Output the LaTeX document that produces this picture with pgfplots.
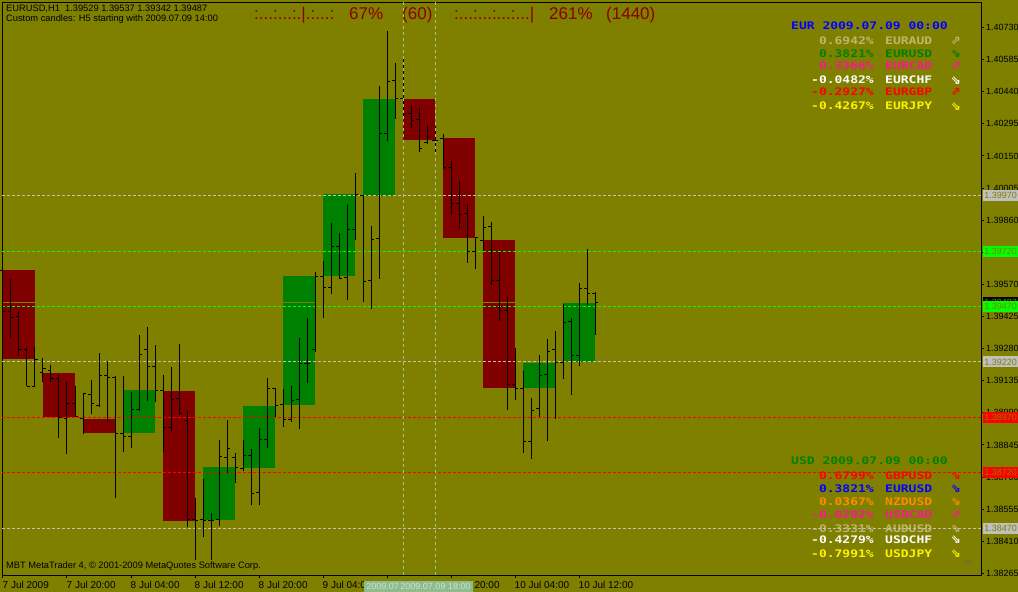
\documentclass[border=0pt]{standalone}
\usepackage{fontspec}
\setmainfont{Liberation Sans}
\newfontfamily\mono{DejaVu Sans Mono}
\newfontfamily\afont{DejaVu Sans}
\usepackage{graphicx}
\usepackage{pgfplots}
\usepackage{pgfplotstable}
\pgfplotsset{compat=1.18}

\definecolor{mtbg}{RGB}{128,128,0}
\definecolor{mtred}{RGB}{128,0,0}
\definecolor{mtgreen}{RGB}{0,128,0}
\definecolor{lvgray}{RGB}{192,192,192}
\definecolor{lvlime}{RGB}{0,255,0}
\definecolor{lvred}{RGB}{255,0,0}
\definecolor{vline}{RGB}{165,195,145}
\definecolor{seagr}{RGB}{143,188,143}
\definecolor{seatxt}{RGB}{205,228,200}
\definecolor{khaki}{RGB}{189,183,107}
\definecolor{dpink}{RGB}{255,20,147}
\definecolor{orng}{RGB}{255,140,0}
\definecolor{hdred}{RGB}{139,0,0}
\definecolor{skull}{RGB}{105,105,85}

% H5 candle bodies: first H1 bar, open, close
\pgfplotstableread{
t o c
0 1.39635 1.39233
5 1.39173 1.38973
10 1.38965 1.38899
20 1.39089 1.38502
50 1.40410 1.40221
55 1.40231 1.39781
60 1.39770 1.39101
}\redc
\pgfplotstableread{
t o c
15 1.38899 1.39092
25 1.38509 1.38744
30 1.38740 1.39024
35 1.39027 1.39608
40 1.39607 1.39977
45 1.39972 1.40410
65 1.39101 1.39218
70 1.39218 1.39487
}\greenc

% H1 bars, t = hours after 7 Jul 12:00
\pgfplotstableread{
t h l o c
0 1.39644 1.39283 1.39635 1.39450
1 1.39594 1.39328 1.39447 1.39421
2 1.39450 1.39247 1.39427 1.39278
3 1.39283 1.39111 1.39278 1.39111
4 1.39287 1.39111 1.39111 1.39233
5 1.39239 1.39131 1.39173 1.39191
6 1.39206 1.39128 1.39182 1.39143
7 1.39161 1.38878 1.39143 1.38970
8 1.39128 1.38806 1.38965 1.39033
9 1.39111 1.38973 1.39033 1.38973
10 1.39078 1.38893 1.38965 1.39078
11 1.39138 1.38986 1.39074 1.39031
12 1.39259 1.39018 1.39025 1.39160
13 1.39223 1.38950 1.39160 1.39151
14 1.39158 1.38604 1.39151 1.38899
15 1.39158 1.38815 1.38899 1.38884
16 1.39083 1.38833 1.38884 1.39007
17 1.39342 1.38997 1.39007 1.39254
18 1.39378 1.39045 1.39277 1.39200
19 1.39296 1.39040 1.39200 1.39092
20 1.39161 1.38815 1.39089 1.38922
21 1.39196 1.38909 1.38922 1.39051
22 1.39299 1.38988 1.39056 1.38986
23 1.38997 1.38476 1.38956 1.38508
24 1.38604 1.38326 1.38508 1.38502
25 1.38691 1.38431 1.38509 1.38502
26 1.38536 1.38326 1.38505 1.38506
27 1.38867 1.38481 1.38509 1.38795
28 1.38958 1.38717 1.38789 1.38830
29 1.38807 1.38675 1.38789 1.38744
30 1.38867 1.38729 1.38740 1.38798
31 1.38827 1.38575 1.38798 1.38628
32 1.38920 1.38575 1.38631 1.38871
33 1.39147 1.38833 1.38871 1.39101
34 1.39101 1.38973 1.39101 1.39024
35 1.39098 1.38927 1.39027 1.38961
36 1.39111 1.38950 1.38958 1.39048
37 1.39328 1.38918 1.39051 1.39211
38 1.39418 1.39126 1.39211 1.39211
39 1.39626 1.39265 1.39274 1.39608
40 1.39676 1.39420 1.39607 1.39557
41 1.39846 1.39527 1.39557 1.39742
42 1.39801 1.39598 1.39742 1.39598
43 1.39933 1.39500 1.39602 1.39819
44 1.40072 1.39770 1.39819 1.39977
45 1.39974 1.39492 1.39972 1.39584
46 1.39834 1.39460 1.39588 1.39774
47 1.40466 1.39596 1.39778 1.40250
48 1.40714 1.40219 1.40250 1.40487
49 1.40570 1.40318 1.40491 1.40410
50 1.40601 1.40326 1.40410 1.40338
51 1.40380 1.40277 1.40343 1.40312
52 1.40366 1.40169 1.40315 1.40184
53 1.40288 1.40204 1.40212 1.40234
54 1.40285 1.40168 1.40221 1.40221
55 1.40249 1.40090 1.40231 1.40099
56 1.40127 1.39883 1.40099 1.39937
57 1.40037 1.39819 1.39937 1.39886
58 1.39933 1.39668 1.39891 1.39719
59 1.39783 1.39641 1.39719 1.39781
60 1.39879 1.39722 1.39770 1.39828
61 1.39852 1.39566 1.39832 1.39588
62 1.39718 1.39406 1.39588 1.39453
63 1.39513 1.39004 1.39453 1.39119
64 1.39283 1.39048 1.39119 1.39101
65 1.39179 1.38810 1.39101 1.38862
66 1.39058 1.38783 1.38862 1.39002
67 1.39250 1.38973 1.39011 1.39160
68 1.39323 1.38864 1.39162 1.39268
69 1.39360 1.38961 1.39274 1.39218
70 1.39481 1.39144 1.39218 1.39400
71 1.39417 1.39072 1.39403 1.39250
72 1.39576 1.39203 1.39250 1.39552
73 1.39728 1.39477 1.39552 1.39527
74 1.39537 1.39342 1.39529 1.39487
}\hbars

\pgfdeclareplotmark{otick}{\pgfpathmoveto{\pgfqpoint{-3pt}{0pt}}\pgfpathlineto{\pgfqpoint{0pt}{0pt}}\pgfusepathqstroke}
\pgfdeclareplotmark{ctick}{\pgfpathmoveto{\pgfqpoint{0pt}{0pt}}\pgfpathlineto{\pgfqpoint{3pt}{0pt}}\pgfusepathqstroke}

\newcommand{\ptxt}[1]{\scalebox{1}[0.8]{\mono\bfseries\fontsize{13}{13}\selectfont #1}}
\newcommand{\prow}[5]{%
  \node[anchor=east,inner sep=0pt,text=#2] at (874,#1) {\ptxt{#3}};
  \node[anchor=west,inner sep=0pt,text=#2] at (885,#1) {\ptxt{#4}};
  \node[inner sep=0pt,text=#2] at (956,#1) {\afont\bfseries\fontsize{12}{12}\selectfont #5};}
\newcommand{\pbox}[3]{\node[fill=#2,text=#3,anchor=west,xshift=2pt,minimum width=35pt,minimum height=11pt,inner sep=0pt,font=\fontsize{9}{9}\selectfont] at (axis cs:122.25,#1) {#1};}

\begin{document}
\begin{tikzpicture}
\useasboundingbox (0,0) rectangle (1018pt,592pt);
\fill[mtbg] (0,0) rectangle (1018pt,592pt);

\begin{scope}[x=1pt,y=-1pt,yshift=592pt]
\node[anchor=west,inner sep=0pt] at (6,8.7) {\fontsize{9.3}{9.3}\selectfont EURUSD,H1\ \ 1.39529 1.39537 1.39342 1.39487};
\node[anchor=west,inner sep=0pt] at (6,19.5) {\fontsize{9.3}{9.3}\selectfont Custom candles: H5 starting with 2009.07.09 14:00};
\node[anchor=west,inner sep=0pt] at (6,566.5) {\fontsize{9.3}{9.3}\selectfont MBT MetaTrader 4, © 2001-2009 MetaQuotes Software Corp.};

\begin{scope}[every node/.style={anchor=base west,inner sep=0pt,text=hdred,font=\fontsize{17}{17}\selectfont}]
\node at (254,19.3) {:...:...:.|.:...:};
\node at (349,19.3) {67\%};
\node at (402,19.3) {(60)};
\node at (454,19.3) {:...:...:...:...|};
\node at (549,19.3) {261\%};
\node at (606,19.3) {(1440)};
\end{scope}

\node[anchor=west,inner sep=0pt,text=blue] at (791,26) {\ptxt{EUR 2009.07.09 00:00}};
\prow{41}{khaki}{0.6942\%}{EURAUD}{⇗}
\prow{53.7}{mtgreen}{0.3821\%}{EURUSD}{⇘}
\prow{66.2}{dpink}{0.3366\%}{EURCAD}{⇗}
\prow{80.2}{white}{-0.0482\%}{EURCHF}{⇘}
\prow{92.2}{lvred}{-0.2927\%}{EURGBP}{⇗}
\prow{106.2}{yellow}{-0.4267\%}{EURJPY}{⇘}

\node[anchor=west,inner sep=0pt,text=mtgreen] at (791,461) {\ptxt{USD 2009.07.09 00:00}};
\prow{475.3}{lvred}{0.6799\%}{GBPUSD}{⇘}
\prow{488.7}{blue}{0.3821\%}{EURUSD}{⇘}
\prow{502}{orng}{0.0367\%}{NZDUSD}{⇘}
\prow{514.7}{dpink}{-0.0292\%}{USDCAD}{⇗}
\prow{528.3}{khaki}{-0.3331\%}{AUDUSD}{⇘}
\prow{540}{white}{-0.4279\%}{USDCHF}{⇘}
\prow{553.3}{yellow}{-0.7991\%}{USDJPY}{⇘}
\end{scope}

\begin{axis}[
  at={(2.5pt,17pt)}, anchor=south west,
  scale only axis, width=978.5pt, height=572.5pt,
  xmin=-0.0625, xmax=122.25, ymin=1.38258, ymax=1.40843,
  clip=false,
  axis line style={black, line width=1pt},
  tick style={black, line width=1pt},
  tick align=outside, major tick length=3pt,
  xtick pos=bottom, ytick pos=right, yticklabel pos=right,
  xtick={0,8,16,24,32,40,48,56,64,72},
  xticklabels={7 Jul 2009, 7 Jul 20:00, 8 Jul 04:00, 8 Jul 12:00, 8 Jul 20:00, 9 Jul 04:00, 9 Jul 12:00, 9 Jul 20:00, 10 Jul 04:00, 10 Jul 12:00},
  ytick={1.38265,1.38410,1.38555,1.38700,1.38845,1.38990,1.39135,1.39280,1.39425,1.39570,1.39715,1.39860,1.40005,1.40150,1.40295,1.40440,1.40585,1.40730},
  yticklabels={1.38265,1.38410,1.38555,1.38700,1.38845,1.38990,1.39135,1.39280,1.39425,1.39570,1.39715,1.39860,1.40005,1.40150,1.40295,1.40440,1.40585,1.40730},
  ticklabel style={font=\fontsize{9}{9}\selectfont, inner sep=0pt, text=black},
  xticklabel style={anchor=north west, xshift=-0.5pt, yshift=-3pt, font=\fontsize{10}{10}\selectfont},
  yticklabel style={anchor=west, xshift=2pt},
]
\addplot[draw=none, mark=none, error bars/.cd, y dir=both, y explicit, error mark=none,
  error bar style={draw=mtred, line width=32pt}]
  table[x expr=\thisrow{t}+2, y expr=(\thisrow{o}+\thisrow{c})/2, y error expr=abs(\thisrow{o}-\thisrow{c})/2] {\redc};
\addplot[draw=none, mark=none, error bars/.cd, y dir=both, y explicit, error mark=none,
  error bar style={draw=mtgreen, line width=32pt}]
  table[x expr=\thisrow{t}+2, y expr=(\thisrow{o}+\thisrow{c})/2, y error expr=abs(\thisrow{o}-\thisrow{c})/2] {\greenc};

\addplot[lvgray, line width=1pt, dash pattern=on 3pt off 2pt] coordinates {(-0.0625,1.39970) (122.25,1.39970)};
\addplot[lvlime, line width=1pt, dash pattern=on 3pt off 2pt] coordinates {(-0.0625,1.39720) (122.25,1.39720)};
\addplot[lvlime, line width=1pt, dash pattern=on 3pt off 2pt] coordinates {(-0.0625,1.39470) (122.25,1.39470)};
\addplot[lvgray, line width=1pt, dash pattern=on 3pt off 2pt] coordinates {(-0.0625,1.39220) (122.25,1.39220)};
\addplot[lvred, line width=1pt, dash pattern=on 3pt off 2pt] coordinates {(-0.0625,1.38970) (122.25,1.38970)};
\addplot[lvred, line width=1pt, dash pattern=on 3pt off 2pt] coordinates {(-0.0625,1.38720) (122.25,1.38720)};
\addplot[lvgray, line width=1pt, dash pattern=on 3pt off 2pt] coordinates {(-0.0625,1.38470) (122.25,1.38470)};
\addplot[mtbg, line width=1pt] coordinates {(-0.0625,1.39487) (122.25,1.39487)};

\addplot[draw=none, mark=none, error bars/.cd, y dir=plus, y explicit, error mark=none,
  error bar style={draw=black, line width=1pt}]
  table[x=t, y=l, y error expr=\thisrow{h}-\thisrow{l}] {\hbars};
\addplot[only marks, mark=otick, mark options={draw=black, line width=1pt}] table[x=t, y=o] {\hbars};
\addplot[only marks, mark=ctick, mark options={draw=black, line width=1pt}] table[x=t, y=c] {\hbars};

\addplot[vline, line width=1pt, dash pattern=on 3pt off 3pt] coordinates {(50,1.38258) (50,1.40843)};
\addplot[vline, line width=1pt, dash pattern=on 3pt off 3pt] coordinates {(54,1.38258) (54,1.40843)};

\pbox{1.39970}{lvgray}{mtbg}
\pbox{1.39720}{lvlime}{mtbg}
\pbox{1.39487}{black}{mtbg}
\pbox{1.39470}{lvlime}{mtbg}
\pbox{1.39220}{lvgray}{mtbg}
\pbox{1.38970}{lvred}{mtbg}
\pbox{1.38720}{lvred}{mtbg}
\pbox{1.38470}{lvgray}{mtbg}
\end{axis}

\begin{scope}[x=1pt,y=-1pt,yshift=592pt]
\node[fill=seagr,text=seatxt,minimum width=75pt,minimum height=11pt,inner sep=0pt,font=\fontsize{9}{9}\selectfont] at (401.5,586.4) {2009.07.09 14:00};
\node[fill=seagr,text=seatxt,minimum width=75pt,minimum height=11pt,inner sep=0pt,font=\fontsize{9}{9}\selectfont] at (435.5,586.4) {2009.07.09 18:00};
\node[inner sep=0pt,text=skull] at (968,562) {\afont\fontsize{10}{10}\selectfont ☠};
\end{scope}
\end{tikzpicture}
\end{document}
